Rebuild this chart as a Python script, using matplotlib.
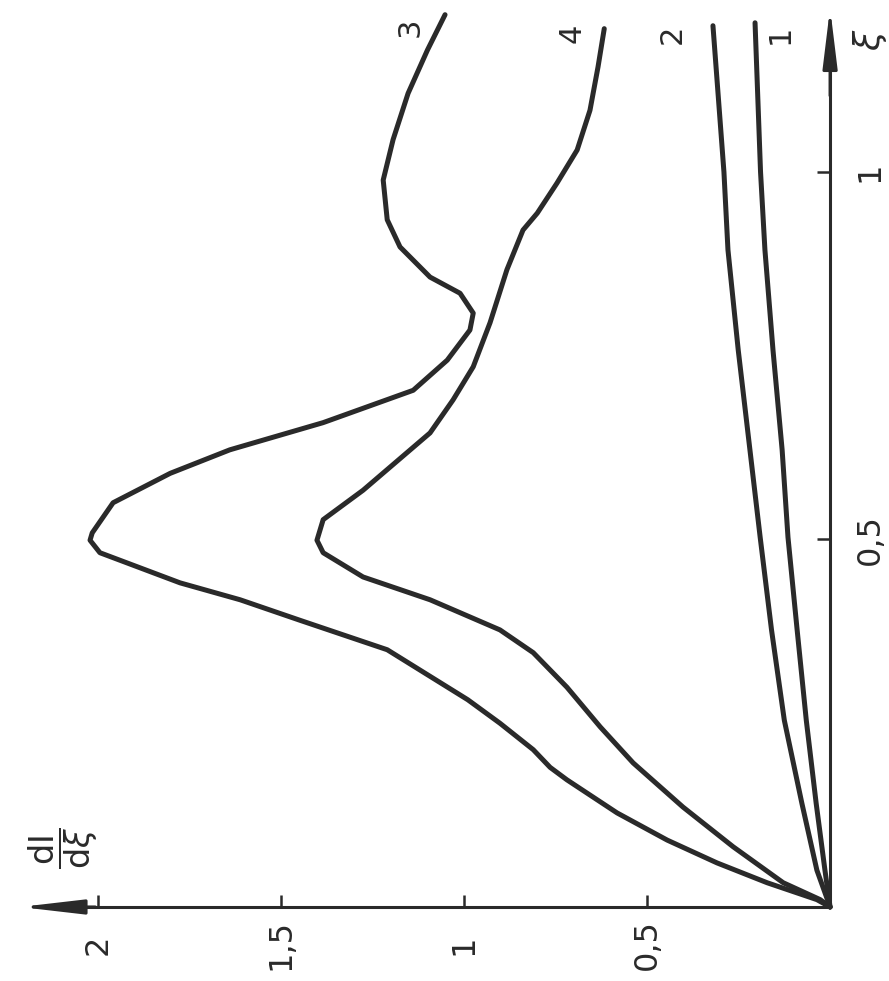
import numpy as np
import matplotlib.pyplot as plt

# curve values, read as (xi, dI/dxi) pairs
xi_1 = [0, 0.05, 0.141, 0.254, 0.377, 0.503, 0.622, 0.758, 0.894, 1.0, 1.203]
di_1 = [0, 0.014, 0.038, 0.065, 0.09, 0.115, 0.131, 0.156, 0.178, 0.19, 0.205]

xi_2 = [0, 0.05, 0.141, 0.254, 0.377, 0.503, 0.622, 0.758, 0.894, 1.0, 1.199]
di_2 = [0, 0.036, 0.077, 0.125, 0.16, 0.191, 0.219, 0.251, 0.279, 0.29, 0.32]

xi_3 = [0, 0.01, 0.033, 0.06, 0.091, 0.128, 0.173, 0.19, 0.214, 0.25, 0.282,
        0.35, 0.39, 0.418, 0.441, 0.482, 0.499, 0.509, 0.55, 0.59, 0.622,
        0.659, 0.703, 0.744, 0.785, 0.808, 0.835, 0.857, 0.898, 0.935, 0.989,
        1.044, 1.107, 1.166, 1.214]
di_3 = [0, 0.036, 0.172, 0.309, 0.445, 0.582, 0.719, 0.765, 0.811, 0.902, 0.99,
        1.21, 1.448, 1.612, 1.776, 1.995, 2.022, 2.016, 1.959, 1.803, 1.64,
        1.385, 1.139, 1.046, 0.984, 0.975, 1.011, 1.093, 1.175, 1.21, 1.221,
        1.194, 1.153, 1.10, 1.052]

xi_4 = [0, 0.01, 0.033, 0.082, 0.136, 0.196, 0.245, 0.299, 0.346, 0.377, 0.418,
        0.449, 0.482, 0.499, 0.527, 0.567, 0.645, 0.69, 0.735, 0.795, 0.867,
        0.921, 0.944, 0.985, 1.03, 1.084, 1.143, 1.195]
di_4 = [0, 0.027, 0.128, 0.265, 0.402, 0.538, 0.628, 0.719, 0.811, 0.902, 1.093,
        1.276, 1.385, 1.402, 1.385, 1.276, 1.093, 1.03, 0.975, 0.929, 0.883,
        0.839, 0.80, 0.746, 0.691, 0.656, 0.634, 0.617]

curves = [(xi_1, di_1, '1'), (xi_2, di_2, '2'), (xi_3, di_3, '3'), (xi_4, di_4, '4')]
# label offsets in points from the end of each curve
label_off = {'1': (18, -8), '2': (-29, -6), '3': (-25, -9), '4': (-23, -3)}

di_ticks = [0.5, 1, 1.5, 2]
di_tick_labels = ['0,5', '1', '1,5', '2']
xi_ticks = [0.5, 1]
xi_tick_labels = ['0,5', '1']

ink = '#2a2a2a'

fig = plt.figure(figsize=(8.89, 9.81), dpi=100)
ax = fig.add_axes([0, 0, 1, 1])
ax.axis('off')
ax.set_xlim(2.268, -0.161)
ax.set_ylim(-0.1007, 1.234)

# axes drawn as arrows, dI/dxi runs to the left, xi runs upward
ax.plot([0, 2.1], [0, 0], color=ink, lw=2.2, solid_capstyle='butt')
ax.plot([0, 0], [0, 1.15], color=ink, lw=2.2, solid_capstyle='butt')
ax.annotate('', xy=(2.221, 0), xytext=(2.0, 0),
            arrowprops=dict(arrowstyle='-|>,head_length=1.9,head_width=0.22',
                            mutation_scale=20, color=ink, lw=2.2))
ax.annotate('', xy=(0, 1.227), xytext=(0, 1.1),
            arrowprops=dict(arrowstyle='-|>,head_length=1.8,head_width=0.22',
                            mutation_scale=20, color=ink, lw=2.2))

# ticks
ax.vlines(di_ticks, 0, 0.016, color=ink, lw=1.8)
ax.hlines(xi_ticks, 0, 0.035, color=ink, lw=1.8)
for v, s in zip(di_ticks, di_tick_labels):
    ax.annotate(s, (v, 0), xytext=(0, -27), textcoords='offset points',
                rotation=90, ha='center', va='center', fontsize=23, color=ink)
for v, s in zip(xi_ticks, xi_tick_labels):
    ax.annotate(s, (0, v), xytext=(29, 0), textcoords='offset points',
                rotation=90, ha='center', va='center', fontsize=23, color=ink)

ax.annotate(r'$\xi$', (0, 1.18), xytext=(29, 0), textcoords='offset points',
            rotation=90, ha='center', va='center', fontsize=26, color=ink)
ax.text(2.096, 0.08, r'$\dfrac{\mathrm{dI}}{\mathrm{d}\xi}$', rotation=90,
        ha='center', va='center', fontsize=24, color=ink)

for xs, ds, name in curves:
    ax.plot(ds, xs, color=ink, lw=3.6, solid_joinstyle='round',
            solid_capstyle='round')
    ax.annotate(name, (ds[-1], xs[-1]), xytext=label_off[name],
                textcoords='offset points', rotation=90, ha='center',
                va='center', fontsize=22, color=ink)

plt.savefig('out.png', dpi=100)
